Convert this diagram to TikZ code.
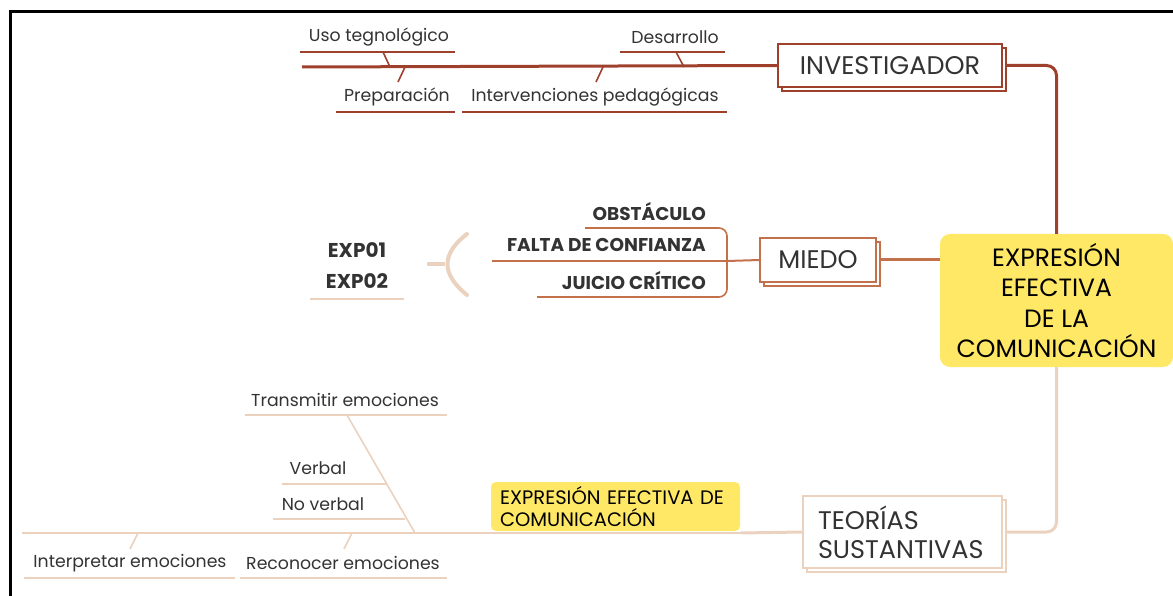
\documentclass[tikz,border=0pt]{standalone}
\usepackage{fontspec}
\setmainfont{Poppins}
\usetikzlibrary{shadows}
\definecolor{dbrown}{HTML}{9E402B}
\definecolor{mbrown}{HTML}{C2714A}
\definecolor{beige}{HTML}{EBD2BF}
\definecolor{yel}{HTML}{FFE866}
\definecolor{txt}{HTML}{333333}
\tikzset{
  lbl/.style={text=txt, font=\fontsize{17.3}{20}\selectfont, inner sep=0pt},
  blbl/.style={text=txt, font=\fontsize{18.5}{20}\selectfont\bfseries, inner sep=0pt},
  big/.style={text=txt, font=\fontsize{25.5}{29}\selectfont},
  shbox/.style={draw, fill=white, line width=1.2pt, inner sep=0pt,
     copy shadow={shadow xshift=4pt, shadow yshift=-4pt}},
  ulD/.style={dbrown, line width=1.6pt},
  ulM/.style={mbrown, line width=1.6pt},
  ulB/.style={beige, line width=1.6pt},
}
\begin{document}
\begin{tikzpicture}[x=1pt,y=-1pt]
\useasboundingbox (0,0) rectangle (1173,596);
\draw[line width=3pt] (10,596) -- (10,12) -- (1173,12);

% central node
\node[fill=yel, rounded corners=10pt, minimum width=233pt, minimum height=133pt,
      align=center, font=\fontsize{25}{30.5}\selectfont, text=black, inner sep=0pt]
      (ctr) at (1056.5,300.5) {EXPRESIÓN\\EFECTIVA\\DE LA\\COMUNICACIÓN};

% INVESTIGADOR branch
\node[shbox, draw=dbrown, minimum width=224pt, minimum height=43pt, big] (inv) at (890,65.5) {INVESTIGADOR};
\draw[dbrown, line width=3pt, rounded corners=10pt] ([xshift=4pt]inv.east) -| (ctr.north);
\coordinate (t0) at (302,67);
\draw[dbrown, line width=3pt] (t0) -- (inv.west);

\node[lbl] (uso) at (379,37) {Uso tegnológico};
\draw[ulD] (300,52) -- (455,52);
\draw[ulD] (383,52) -- (390,67);
\node[lbl] (des) at (675,37) {Desarrollo};
\draw[ulD] (620,52) -- (725,52);
\draw[ulD] (676,52) -- (684,67);
\node[lbl] (pre) at (397,97) {Preparación};
\draw[ulD] (336,112) -- (455,112);
\draw[ulD] (405,67) -- (398,82);
\node[lbl] (int) at (595,97) {Intervenciones pedagógicas};
\draw[ulD] (462,112) -- (727,112);
\draw[ulD] (603,67) -- (596,82);

% MIEDO branch
\node[shbox, draw=mbrown, minimum width=116pt, minimum height=44pt, big] (miedo) at (818,260) {MIEDO};
\draw[mbrown, line width=3pt] ([xshift=4pt]miedo.east) -- (miedo.east -| ctr.west);
\coordinate (br) at (727,261);
\draw[mbrown, line width=2pt] (miedo.west) -- (br);
\draw[ulM, rounded corners=8pt] (585,228) -- (727,228) -- (727,297) -- (537,297);
\draw[ulM] (492,261) -- (br);
\node[blbl, anchor=east] (obs) at (706,212) {OBSTÁCULO};
\node[blbl, anchor=east] (fal) at (706,245) {FALTA DE CONFIANZA};
\node[blbl, anchor=east] (jui) at (706,281) {JUICIO CRÍTICO};

\draw[beige, line width=4pt, line cap=round] (467,234) .. controls (441,254) and (441,274) .. (467,295);
\draw[beige, line width=4pt] (427,264) -- (445,264);
\node[blbl, font=\fontsize{20}{22}\selectfont\bfseries] (e1) at (357,250) {EXP01};
\node[blbl, font=\fontsize{20}{22}\selectfont\bfseries] (e2) at (357,281) {EXP02};
\draw[ulB] (310,299) -- (404,299);

% TEORIAS branch
\node[shbox, draw=beige, minimum height=72pt, inner xsep=15pt, text width=169pt,
      align=left, big] (teo) at (902.5,532) {TEORÍAS\\SUSTANTIVAS};
\draw[beige, line width=3pt, rounded corners=10pt] (ctr.south) |- ([xshift=4pt]teo.east);
\coordinate (b1) at (741,533);
\coordinate (b0) at (22,533);
\draw[beige, line width=3pt] (teo.west) -- (b1);
\draw[beige, line width=2pt] (b1) -- (b0);

\node[fill=yel, rounded corners=5pt, minimum height=49pt, inner xsep=9pt, text width=231pt,
      align=left, text=black, font=\fontsize{19.5}{22}\selectfont] (lab) at (615.5,506.5)
      {EXPRESIÓN EFECTIVA DE\\COMUNICACIÓN};

\node[lbl] (tra) at (345,400) {Transmitir emociones};
\draw[ulB] (245,415) -- (447,415);
\draw[ulB] (347,415) -- (415,533);
\node[lbl] (ver) at (318,468) {Verbal};
\draw[ulB] (282,484) -- (386,484);
\node[lbl] (nov) at (323,504) {No verbal};
\draw[ulB] (273,519) -- (405,519);
\node[lbl] (ipr) at (130,563) {Interpretar emociones};
\draw[ulB] (24,578) -- (235,578);
\draw[ulB] (138,533) -- (130,549);
\node[lbl] (rec) at (343,563) {Reconocer emociones};
\draw[ulB] (240,578) -- (447,578);
\draw[ulB] (352,533) -- (344,549);
\end{tikzpicture}
\end{document}
